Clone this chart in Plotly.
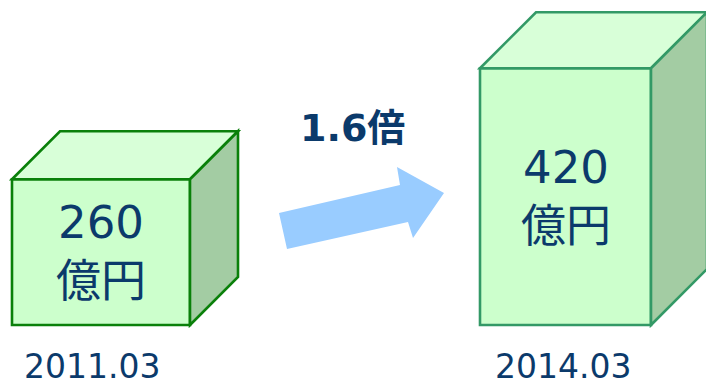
import plotly.graph_objects as go

# Data
periods = ["2011.03", "2014.03"]
values = [260, 420]          # 億円
unit = "億円"

W, H = 706, 388
FLOOR = 50                   # value at the bottom edge of the boxes
PX_PER_UNIT = 0.694          # vertical pixels per 億円
BASE_PX = 325                # pixel row of the box bottoms

TEXT = "#0B3A6B"
FRONT = "#CCFFCC"
TOP = "#D8FFD8"
SIDE = "#A3CCA3"
OUTLINES = ["#0A800A", "#339966"]
BOX_X = [(12, 190), (480, 651)]
DEPTH = [48, 56]


def py(px):
    """Pixel row -> y-axis value."""
    return FLOOR + (BASE_PX - px) / PX_PER_UNIT


def paper_y(px):
    return 1 - px / H


def poly(pts):
    return "M " + " L ".join(f"{x},{y}" for x, y in pts) + " Z"


fig = go.Figure()
shapes = []
annotations = []

for i, v in enumerate(values):
    x0, x1 = BOX_X[i]
    d = DEPTH[i]
    dv = d / PX_PER_UNIT
    line = dict(color=OUTLINES[i], width=2.6)
    front = [(x0, FLOOR), (x1, FLOOR), (x1, v), (x0, v)]
    top = [(x0, v), (x0 + d, v + dv), (x1 + d, v + dv), (x1, v)]
    side = [(x1, FLOOR), (x1 + d, FLOOR + dv), (x1 + d, v + dv), (x1, v)]
    for pts, col in ((front, FRONT), (top, TOP), (side, SIDE)):
        shapes.append(dict(type="path", path=poly(pts), xref="x", yref="y",
                           fillcolor=col, line=line, layer="below"))
    cx = (x0 + x1) / 2
    cy = (v + FLOOR) / 2
    annotations.append(dict(x=cx, y=cy, xref="x", yref="y",
                            text=f"{v}<br>{unit}", showarrow=False,
                            font=dict(size=45, color=TEXT,
                                      family="DejaVu Sans, Noto Sans CJK JP"),
                            align="center", xanchor="center", yanchor="middle"))
    annotations.append(dict(x=[92, 563][i], y=paper_y(366), xref="x", yref="paper",
                            text=periods[i], showarrow=False, borderpad=0,
                            font=dict(size=33, color=TEXT, family="DejaVu Sans"),
                            xanchor="center", yanchor="middle"))

# Growth arrow between the boxes
arrow_px = [(279, 213), (400, 185), (397, 167), (444, 193),
            (413, 238), (408, 222), (287, 249)]
shapes.append(dict(type="path", xref="x", yref="paper",
                   path=poly([(x, paper_y(y)) for x, y in arrow_px]),
                   fillcolor="#99CCFF", line=dict(width=0)))

ratio = values[1] / values[0]
annotations.append(dict(x=352, y=paper_y(128), xref="x", yref="paper",
                        text=f"<b>{ratio:.1f}倍</b>", showarrow=False,
                        font=dict(size=38, color=TEXT,
                                  family="DejaVu Sans, Noto Sans CJK JP"),
                        xanchor="center", yanchor="middle"))

fig.update_layout(
    width=W, height=H,
    margin=dict(l=0, r=0, t=0, b=0),
    paper_bgcolor="white", plot_bgcolor="white",
    shapes=shapes, annotations=annotations,
    showlegend=False,
    xaxis=dict(range=[0, W], visible=False, fixedrange=True),
    yaxis=dict(range=[py(H), py(0)], visible=False, fixedrange=True),
)

fig.write_html("out.html")
